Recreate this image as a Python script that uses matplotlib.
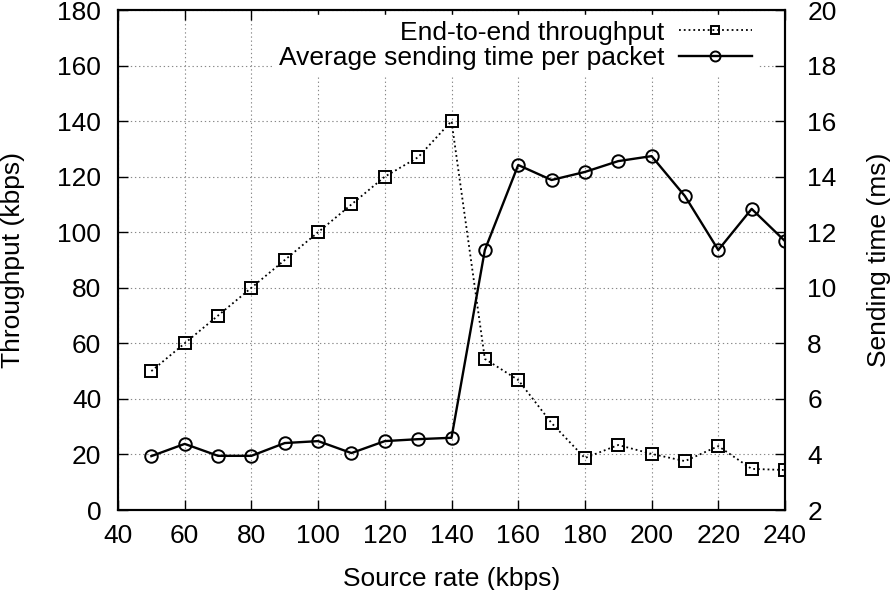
import matplotlib
matplotlib.use("Agg")
import matplotlib.pyplot as plt

source_rate = [50, 60, 70, 80, 90, 100, 110, 120, 130, 140, 150, 160, 170, 180, 190, 200, 210, 220, 230, 240]
throughput = [50, 60, 70, 80, 90, 100, 110, 120, 127, 140, 54.4, 46.8, 31.3, 18.7, 23.4, 20.2, 17.6, 23.0, 14.8, 14.4]
send_time = [3.94, 4.38, 3.95, 3.95, 4.41, 4.48, 4.05, 4.48, 4.55, 4.6, 11.36, 14.42, 13.88, 14.17, 14.56, 14.74, 13.3, 11.36, 12.84, 11.68]

plt.rcParams['font.family'] = ['Liberation Sans', 'DejaVu Sans']
plt.rcParams['font.size'] = 19

fig = plt.figure(figsize=(8.91, 5.90), dpi=100)
ax = fig.add_axes([118/891, 80/590, (785-118)/891, 500/590])
ax2 = ax.twinx()

l1, = ax.plot(source_rate, throughput, linestyle=':', color='black', lw=1.3,
              marker='s', markersize=8, markerfacecolor='none', markeredgecolor='black',
              markeredgewidth=1.4, label='End-to-end throughput', zorder=3)
l2, = ax2.plot(source_rate, send_time, linestyle='-', color='black', lw=1.7,
               marker='o', markersize=9, markerfacecolor='none', markeredgecolor='black',
               markeredgewidth=1.4, label='Average sending time per packet', zorder=3)

ax.set_xlim(40, 240)
ax.set_ylim(0, 180)
ax2.set_ylim(2, 20)
ax.set_xticks(range(40, 241, 20))
ax.set_yticks(range(0, 181, 20))
ax2.set_yticks(range(2, 21, 2))

ax.grid(True, linestyle=(0, (1.2, 2.5)), color='#888888', lw=0.8)
ax.set_axisbelow(True)

ax.tick_params(axis='x', direction='in', top=True, length=7, width=1, pad=10)
ax.tick_params(axis='y', direction='in', length=7, width=1, pad=12)
ax2.tick_params(axis='y', direction='in', length=7, width=1, pad=16)
for a in (ax, ax2):
    for s in a.spines.values():
        s.set_linewidth(1.5)

ax.set_xlabel('Source rate (kbps)', labelpad=14)
ax.set_ylabel('Throughput (kbps)', labelpad=23)
ax2.set_ylabel('Sending time (ms)', labelpad=22)

leg = ax2.legend([l1, l2], [l1.get_label(), l2.get_label()], loc='upper right',
                 markerfirst=False, frameon=True, fancybox=False, edgecolor='white',
                 facecolor='white', framealpha=1.0, handlelength=2.8, markerscale=0.8,
                 borderaxespad=0.2, labelspacing=0.05, handletextpad=0.55,
                 borderpad=0.2, bbox_to_anchor=(0.967, 1.0))

fig.savefig('out.png', dpi=100)
